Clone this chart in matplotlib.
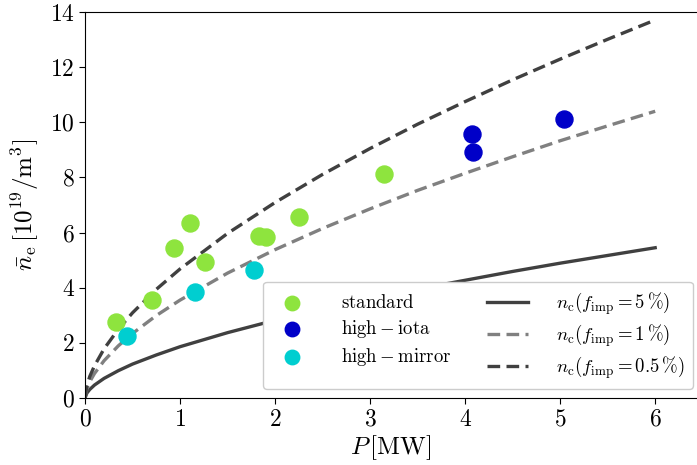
import matplotlib
matplotlib.use("Agg")
import matplotlib.pyplot as plt

plt.rcParams['font.family'] = 'serif'
plt.rcParams['font.serif'] = ['cmr10', 'DejaVu Serif']
plt.rcParams['mathtext.fontset'] = 'cm'
plt.rcParams['axes.formatter.use_mathtext'] = True
plt.rcParams['axes.unicode_minus'] = False

# measured points
P_standard = [0.33, 0.70, 0.94, 1.11, 1.26, 1.83, 1.90, 2.25, 3.15]
n_standard = [2.76, 3.55, 5.45, 6.36, 4.94, 5.88, 5.85, 6.55, 8.12]
P_iota = [4.07, 4.08, 5.04]
n_iota = [9.59, 8.92, 10.13]
P_mirror = [0.44, 1.16, 1.78]
n_mirror = [2.26, 3.83, 4.64]

# curves
P_curve = [0, 0.02, 0.05, 0.1, 0.2, 0.35, 0.5, 0.75, 1, 1.5, 2, 2.5, 3, 3.5, 4, 4.5, 5, 5.5, 6]
n_c5 = [0, 0.18, 0.31, 0.47, 0.71, 0.99, 1.23, 1.56, 1.86, 2.37, 2.82, 3.22, 3.60, 3.95, 4.27, 4.59, 4.89, 5.17, 5.45]
n_c1 = [0, 0.34, 0.59, 0.89, 1.35, 1.89, 2.34, 2.99, 3.55, 4.53, 5.38, 6.15, 6.86, 7.53, 8.15, 8.75, 9.33, 9.87, 10.40]
n_c05 = [0, 0.45, 0.78, 1.17, 1.78, 2.49, 3.09, 3.94, 4.68, 5.97, 7.09, 8.11, 9.05, 9.93, 10.75, 11.54, 12.29, 13.01, 13.71]

fig = plt.figure(figsize=(6.97, 4.65), dpi=100)
ax = fig.add_axes([85/697, 1-398/465, 1-85/697, (398-12)/465])

lw = 2.4
l1, = ax.plot(P_curve, n_c5, color='#404040', lw=lw, label=r'$n_{\mathrm{c}}(f_{\mathrm{imp}}=5\,\%)$')
l2, = ax.plot(P_curve, n_c1, color='#808080', lw=lw, ls=(0, (3.8, 1.9)), label=r'$n_{\mathrm{c}}(f_{\mathrm{imp}}=1\,\%)$')
l3, = ax.plot(P_curve, n_c05, color='#404040', lw=lw, ls=(0, (3.8, 1.9)), label=r'$n_{\mathrm{c}}(f_{\mathrm{imp}}=0.5\,\%)$')

s = 150
h1 = ax.scatter(P_standard, n_standard, s=s, color='#8ee43e', zorder=3, label=r'$\mathrm{standard}$')
h2 = ax.scatter(P_iota, n_iota, s=s, color='#0000c8', zorder=3, label=r'$\mathrm{high-iota}$')
h3 = ax.scatter(P_mirror, n_mirror, s=s, color='#00ced0', zorder=3, label=r'$\mathrm{high-mirror}$')

ax.set_xlim(0, 6.44)
ax.set_ylim(0, 14)
ax.set_xticks([0, 1, 2, 3, 4, 5, 6])
ax.set_yticks([0, 2, 4, 6, 8, 10, 12, 14])
ax.set_xticklabels([f'${v}$' for v in [0, 1, 2, 3, 4, 5, 6]])
ax.set_yticklabels([f'${v}$' for v in [0, 2, 4, 6, 8, 10, 12, 14]])
ax.tick_params(labelsize=17, length=4)
ax.spines['right'].set_visible(False)

ax.set_xlabel(r'$P\,[\mathrm{MW}]$', fontsize=18, labelpad=2)
ax.set_ylabel(r'$\bar{n}_{\mathrm{e}}\,[10^{19}/\mathrm{m}^3]$', fontsize=18, labelpad=6)

leg = ax.legend(handles=[h1, h2, h3, l1, l2, l3], ncol=2, fontsize=13.5,
                loc='lower right', bbox_to_anchor=(693/697, 1-389/465),
                bbox_transform=fig.transFigure, handletextpad=1.5,
                columnspacing=1.9, labelspacing=0.3, borderaxespad=0,
                handlelength=2.2, markerscale=0.85, borderpad=0.45,
                framealpha=1)
leg.get_frame().set_edgecolor('#cccccc')

fig.savefig('out.png', dpi=100)
